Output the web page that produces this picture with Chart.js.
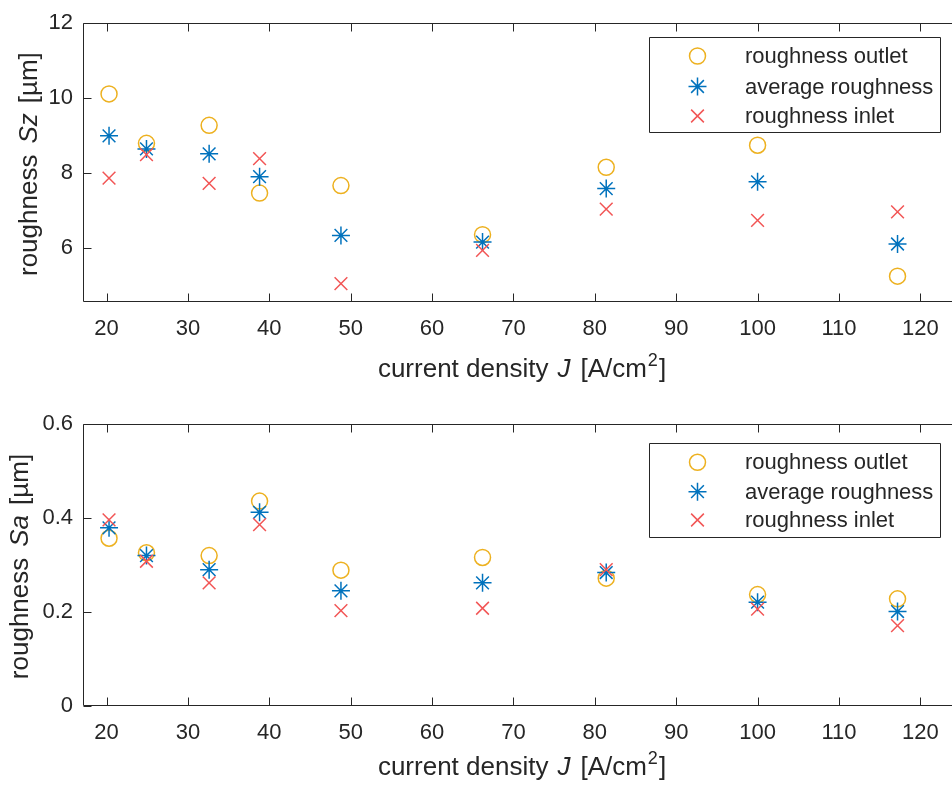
<!DOCTYPE html>
<html><head><meta charset="utf-8">
<script src="https://cdn.jsdelivr.net/npm/chart.js@4.4.0/dist/chart.umd.min.js"></script>
<style>
html,body{margin:0;padding:0;background:#fff;overflow:hidden;width:952px;height:789px;}
#wrap{position:relative;width:952px;height:789px;overflow:hidden;background:#fff;}
canvas{position:absolute;left:0;}
#c1{top:0;}
#c2{top:395px;}
</style></head><body>
<div id="wrap">
<canvas id="c1" width="962" height="395"></canvas>
<canvas id="c2" width="962" height="394"></canvas>
</div>
<script>
// ---- data ----
const currentDensity = [20.3, 24.9, 32.6, 38.8, 48.8, 66.2, 81.4, 100.0, 117.2];
const seriesNames = ['roughness outlet', 'average roughness', 'roughness inlet'];
const szOutlet  = [10.11, 8.79, 9.27, 7.46, 7.66, 6.35, 8.15, 8.74, 5.24];
const szAverage = [8.99, 8.64, 8.51, 7.90, 6.33, 6.15, 7.58, 7.76, 6.10];
const szInlet   = [7.86, 8.49, 7.72, 8.38, 5.04, 5.93, 7.03, 6.73, 6.96];
const saOutlet  = [0.357, 0.326, 0.320, 0.436, 0.289, 0.316, 0.272, 0.237, 0.228];
const saAverage = [0.379, 0.320, 0.290, 0.412, 0.245, 0.262, 0.284, 0.221, 0.201];
const saInlet   = [0.396, 0.308, 0.262, 0.386, 0.203, 0.208, 0.290, 0.206, 0.171];
const xTicks = [20, 30, 40, 50, 60, 70, 80, 90, 100, 110, 120];
const xTickLabels = ['20', '30', '40', '50', '60', '70', '80', '90', '100', '110', '120'];
const szTicks = [6, 8, 10, 12];
const szTickLabels = ['6', '8', '10', '12'];
const saTicks = [0, 0.2, 0.4, 0.6];
const saTickLabels = ['0', '0.2', '0.4', '0.6'];

// ---- style ----
const TEXT = '#262626';
const FONT = '"Liberation Sans", Arial, Helvetica, sans-serif';
const COLORS = ['#EDB120', '#0072BD', '#F25555'];
const STYLES = ['circle', 'star', 'crossRot'];
const RADII = [8, 9, 9];

function pts(ys) { return currentDensity.map((x, i) => ({ x: x, y: ys[i] })); }

function makeDatasets(vals) {
  return vals.map((v, i) => ({
    label: seriesNames[i],
    data: pts(v),
    showLine: false,
    pointStyle: STYLES[i],
    pointRadius: RADII[i],
    pointHoverRadius: RADII[i],
    pointBorderWidth: 1.5,
    borderColor: COLORS[i],
    backgroundColor: 'rgba(0,0,0,0)',
    pointBackgroundColor: 'rgba(0,0,0,0)',
    order: 3 - i
  }));
}

function drawPieces(ctx, pieces, size) {
  let w = 0;
  pieces.forEach(p => {
    const s = p.sup ? Math.round(size * 0.68) : size;
    ctx.font = (p.italic ? 'italic ' : '') + s + 'px ' + FONT;
    p._w = ctx.measureText(p.t).width;
    p._s = s;
    w += p._w + (p.gap || 0);
  });
  return w;
}
function renderPieces(ctx, pieces, x0, baseline, size) {
  let x = x0;
  pieces.forEach(p => {
    ctx.font = (p.italic ? 'italic ' : '') + p._s + 'px ' + FONT;
    ctx.fillText(p.t, x, p.sup ? baseline - size * 0.42 : baseline);
    x += p._w + (p.gap || 0);
  });
}

const framePlugin = {
  id: 'frame',
  afterDraw(chart, args, o) {
    const ctx = chart.ctx;
    const ca = chart.chartArea;
    const xs = chart.scales.x, ys = chart.scales.y;
    ctx.save();
    ctx.strokeStyle = TEXT;
    ctx.lineWidth = 1;
    const L = Math.round(ca.left) + 0.5, R = Math.round(ca.right) - 0.5;
    const T = Math.round(ca.top) + 0.5, B = Math.round(ca.bottom) - 0.5;
    ctx.beginPath();
    ctx.rect(L, T, R - L, B - T);
    ctx.stroke();
    ctx.beginPath();
    xTicks.forEach(v => {
      const px = Math.round(xs.getPixelForValue(v)) + 0.5;
      ctx.moveTo(px, B); ctx.lineTo(px, B - 8);
      ctx.moveTo(px, T); ctx.lineTo(px, T + 8);
    });
    o.yTicks.forEach(v => {
      const py = Math.round(ys.getPixelForValue(v)) + 0.5;
      ctx.moveTo(L, py); ctx.lineTo(L + 8, py);
      ctx.moveTo(R, py); ctx.lineTo(R - 8, py);
    });
    ctx.stroke();

    // x title
    ctx.fillStyle = TEXT;
    ctx.textBaseline = 'alphabetic';
    ctx.textAlign = 'left';
    const xp = [
      { t: 'current density', gap: 9 },
      { t: 'J', italic: true, gap: 10 },
      { t: '[A/cm', gap: 1 },
      { t: '2', sup: true, gap: 1 },
      { t: ']' }
    ];
    const xw = drawPieces(ctx, xp, o.titleSize);
    renderPieces(ctx, xp, (ca.left + ca.right) / 2 - xw / 2, o.xTitleBase, o.titleSize);

    // y title (rotated)
    const yp = [
      { t: 'roughness', gap: 11 },
      { t: o.yVar, italic: true, gap: 10 },
      { t: '[µm]' }
    ];
    const yw = drawPieces(ctx, yp, o.titleSize);
    ctx.save();
    ctx.translate(o.yTitleBase, (ca.top + ca.bottom) / 2 + 1.5);
    ctx.rotate(-Math.PI / 2);
    renderPieces(ctx, yp, -yw / 2, 0, o.titleSize);
    ctx.restore();

    // legend
    const lg = o.legend;
    ctx.strokeStyle = TEXT;
    ctx.lineWidth = 1;
    ctx.beginPath();
    ctx.rect(lg.x0 + 0.5, lg.y0 + 0.5, lg.x1 - lg.x0, lg.y1 - lg.y0);
    ctx.fillStyle = '#fff';
    ctx.fill();
    ctx.stroke();
    ctx.font = o.legendSize + 'px ' + FONT;
    ctx.textBaseline = 'middle';
    seriesNames.forEach((name, i) => {
      const yy = lg.rows[i];
      ctx.strokeStyle = COLORS[i];
      ctx.fillStyle = 'rgba(0,0,0,0)';
      ctx.lineWidth = 1.5;
      Chart.helpers.drawPoint(ctx, { pointStyle: STYLES[i], radius: RADII[i], borderWidth: 1.5, rotation: 0 }, lg.mx, yy);
      ctx.fillStyle = TEXT;
      ctx.fillText(name, lg.tx, yy + 1);
    });
    ctx.restore();
  }
};

function makeChart(id, vals, yMin, yMax, yTicks, yLabels, padTop, xAxisH, frameOpts) {
  const ctx = document.getElementById(id).getContext('2d');
  return new Chart(ctx, {
    type: 'scatter',
    data: { datasets: makeDatasets(vals) },
    options: {
      responsive: false,
      animation: false,
      events: [],
      devicePixelRatio: 1,
      layout: { autoPadding: false, padding: { top: padTop, right: 1, left: 0, bottom: 0 } },
      plugins: { legend: { display: false }, tooltip: { enabled: false }, frame: frameOpts },
      scales: {
        x: {
          type: 'linear', min: 17.1, max: 125,
          afterBuildTicks: a => { a.ticks = xTicks.map(v => ({ value: v })); },
          afterFit: s => { s.height = xAxisH; },
          grid: { display: false, drawTicks: false },
          border: { display: false },
          ticks: { color: TEXT, font: { family: FONT, size: 22 }, padding: 14, maxRotation: 0,
                   callback: (v, i) => xTickLabels[i] }
        },
        y: {
          type: 'linear', min: yMin, max: yMax,
          afterBuildTicks: a => { a.ticks = yTicks.map(v => ({ value: v })); },
          afterFit: s => { s.width = 83; },
          grid: { display: false, drawTicks: false },
          border: { display: false },
          ticks: { color: TEXT, font: { family: FONT, size: 22 }, padding: 10,
                   callback: (v, i) => yLabels[i] }
        }
      }
    },
    plugins: [framePlugin]
  });
}

makeChart('c1', [szOutlet, szAverage, szInlet], 4.55, 12, szTicks, szTickLabels, 22, 93, {
  yTicks: szTicks, yVar: 'Sz', titleSize: 26, legendSize: 22,
  xTitleBase: 376.5, yTitleBase: 37,
  legend: { x0: 649, y0: 37, x1: 940, y1: 132, mx: 697.5, tx: 745, rows: [56, 86.5, 116] }
});
makeChart('c2', [saOutlet, saAverage, saInlet], 0, 0.6, saTicks, saTickLabels, 29, 83, {
  yTicks: saTicks, yVar: 'Sa', titleSize: 26, legendSize: 22,
  xTitleBase: 380, yTitleBase: 28,
  legend: { x0: 649, y0: 48, x1: 940, y1: 142, mx: 697.5, tx: 745, rows: [67.3, 96.7, 125] }
});
</script>
</body></html>
